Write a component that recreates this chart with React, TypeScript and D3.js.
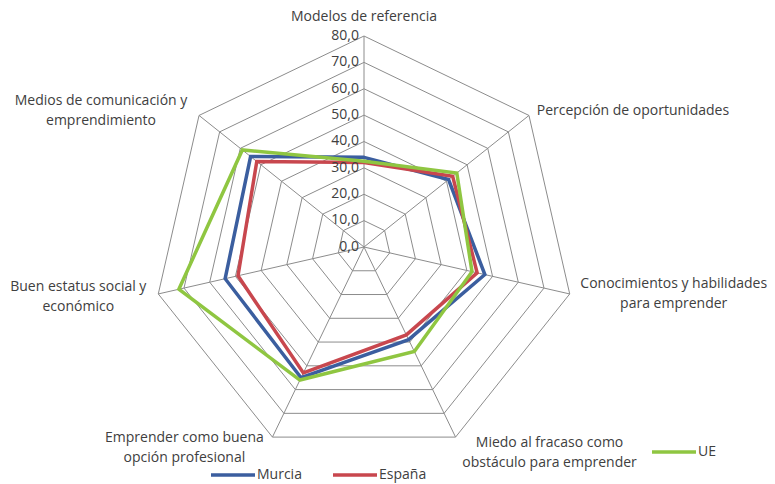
import React from "react";
import * as d3 from "d3";

// categories (axes), clockwise from the top
const axes = [
  ["Modelos de referencia"],
  ["Percepción de oportunidades"],
  ["Conocimientos y habilidades", "para emprender"],
  ["Miedo al fracaso como", "obstáculo para emprender"],
  ["Emprender como buena", "opción profesional"],
  ["Buen estatus social y", "económico"],
  ["Medios de comunicación y", "emprendimiento"],
];

const murcia = [34, 41, 47, 39, 55, 54, 55];
const espana = [32, 43, 44, 37, 53, 49, 52];
const ue = [32.5, 45, 42, 44, 56, 72, 59];

const ticks = [0, 10, 20, 30, 40, 50, 60, 70, 80];

const series = [
  { name: "Murcia", values: murcia, color: "#3b5e9f" },
  { name: "España", values: espana, color: "#c8474e" },
  { name: "UE", values: ue, color: "#8fc641" },
];

// label offsets from each axis end (center of the text block)
const labelOffsets: [number, number][] = [
  [0, -19],
  [104, -4],
  [104, 0],
  [94, 16],
  [-88, 11],
  [-80, 3],
  [-98, -4],
];

const W = 775;
const H = 484;
const cx = 364;
const cy = 247;
const fontFamily = "'Open Sans', 'Noto Sans', sans-serif";

export default function App() {
  const n = axes.length;
  const step = (2 * Math.PI) / n;
  const r = d3.scaleLinear().domain([0, 80]).range([0, 211]);
  const point = (i: number, v: number): [number, number] => [
    cx + r(v) * Math.sin(i * step),
    cy - r(v) * Math.cos(i * step),
  ];

  const radial = d3
    .lineRadial<number>()
    .angle((_, i) => i * step)
    .radius((d) => r(d))
    .curve(d3.curveLinearClosed);

  const ring = (v: number) =>
    d3.range(n).map((i) => point(i, v).join(",")).join(" ");

  return (
    <div style={{ position: "absolute", left: 0, top: 0 }}>
      <svg width={W} height={H} style={{ display: "block", background: "#fff" }}>
        <g fill="none" stroke="#8c8c8c" strokeWidth={1}>
          {ticks.slice(1).map((t) => (
            <polygon key={t} points={ring(t)} />
          ))}
          {d3.range(n).map((i) => {
            const [x, y] = point(i, 80);
            return <line key={i} x1={cx} y1={cy} x2={x} y2={y} />;
          })}
        </g>

        <g transform={`translate(${cx},${cy})`}>
          {series.map((s) => (
            <path
              key={s.name}
              d={radial(s.values) || ""}
              fill="none"
              stroke={s.color}
              strokeWidth={3.5}
              strokeLinejoin="miter"
            />
          ))}
        </g>

        <g fontFamily={fontFamily} fontSize={14} fill="#404040">
          {ticks.map((t) => (
            <text
              key={t}
              x={cx - 5}
              y={cy - r(t)}
              textAnchor="end"
              dominantBaseline="middle"
            >
              {d3.format(".1f")(t).replace(".", ",")}
            </text>
          ))}

          {axes.map((lines, i) => {
            const [x, y] = point(i, 80);
            const [dx, dy] = labelOffsets[i];
            const lh = 20;
            const y0 = y + dy - ((lines.length - 1) * lh) / 2;
            return (
              <text key={i} textAnchor="middle" dominantBaseline="middle">
                {lines.map((l, j) => (
                  <tspan key={j} x={x + dx} y={y0 + j * lh}>
                    {l}
                  </tspan>
                ))}
              </text>
            );
          })}
        </g>

        <g fontFamily={fontFamily} fontSize={14} fill="#404040">
          {[
            { s: series[0], x: 211, y: 475 },
            { s: series[1], x: 333, y: 475 },
            { s: series[2], x: 652, y: 452 },
          ].map(({ s, x, y }) => (
            <g key={s.name}>
              <line x1={x} x2={x + 44} y1={y} y2={y} stroke={s.color} strokeWidth={3.5} />
              <text x={x + 46} y={y} dominantBaseline="middle">
                {s.name}
              </text>
            </g>
          ))}
        </g>
      </svg>
    </div>
  );
}
